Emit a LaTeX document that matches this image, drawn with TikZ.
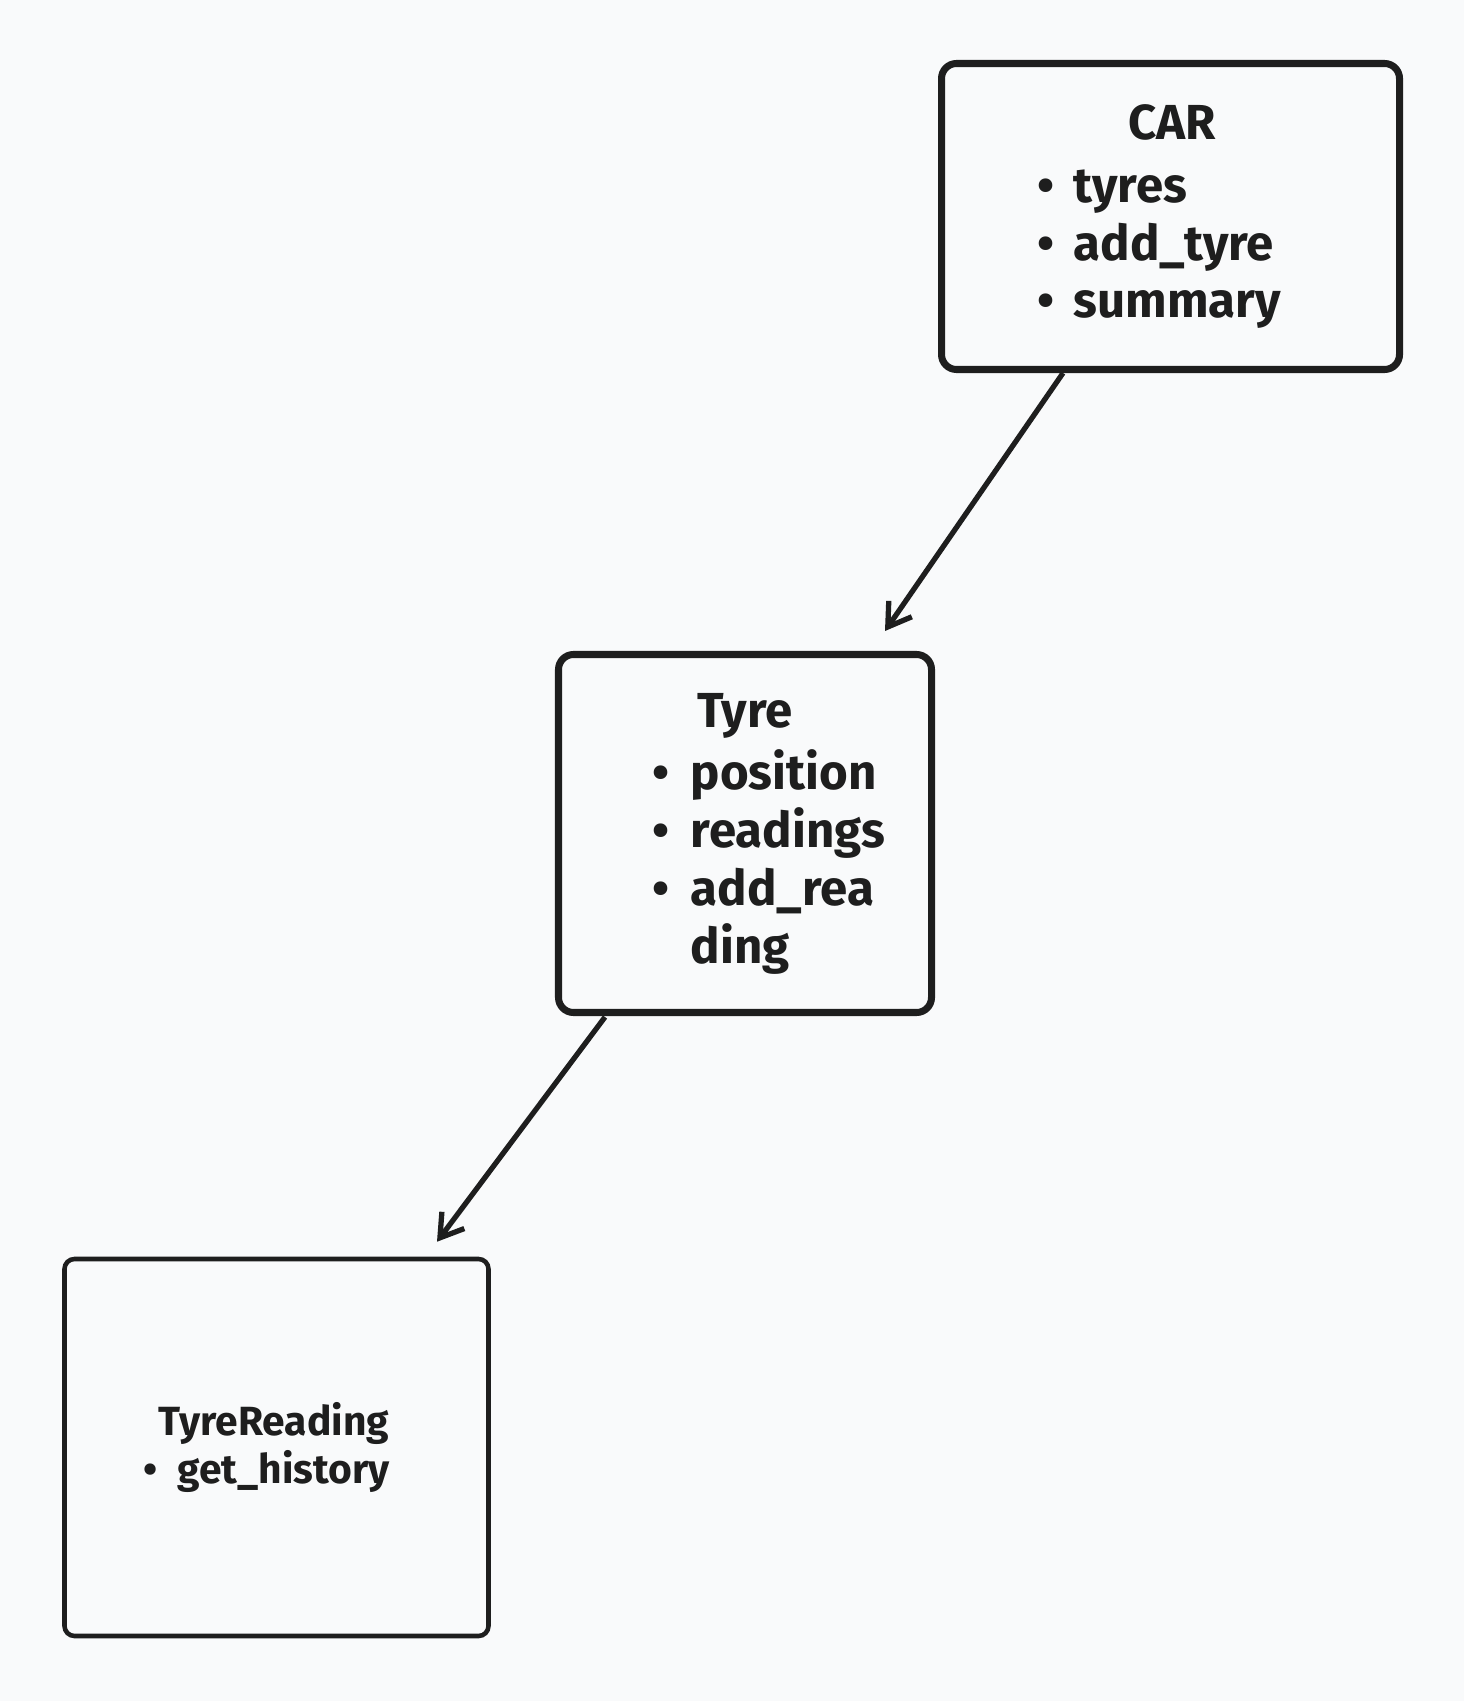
\documentclass[tikz,border=0pt]{standalone}
\usepackage{fontspec}
\setmainfont{Fira Sans}
\usetikzlibrary{arrows.meta}

\definecolor{paper}{RGB}{249,250,251}
\definecolor{ink}{RGB}{30,30,30}

\newcommand{\itm}[2]{\makebox[#1][l]{\textbullet}#2}

\begin{document}
\begin{tikzpicture}[%
    classbox/.style={draw=ink,line width=2pt,rounded corners=0.15cm},
    thinbox/.style={draw=ink,line width=1.3pt,rounded corners=0.1cm},
    big/.style={text=ink,inner sep=0pt,font=\bfseries\fontsize{14}{16.5}\selectfont},
    small/.style={text=ink,inner sep=0pt,font=\bfseries\fontsize{11.6}{13.7}\selectfont},
    link/.style={draw=ink,line width=1.5pt,-{Straight Barb[length=0.22cm,width=0.28cm]}}
  ]
		\fill[paper] (0,0) rectangle (14.64,-17.01);
		\useasboundingbox (0,0) rectangle (14.64,-17.01);

		% boxes
		\node at (11.705,-2.165) [classbox,minimum width=4.58cm,minimum height=3.06cm] (car) {};
		\node at (7.45,-8.335) [classbox,minimum width=3.73cm,minimum height=3.58cm] (tyre) {};
		\node at (2.765,-14.475) [thinbox,minimum width=4.24cm,minimum height=3.77cm] (reading) {};

		% texts (base anchor sits on the last line)
		\node at (11.72,-1.40) [big,anchor=base] (carT) {CAR};
		\node at (10.37,-3.18) [big,anchor=base west,align=left] (carL)
			{\itm{0.36cm}{tyres}\\ \itm{0.36cm}{add\_tyre}\\ \itm{0.36cm}{summary}};

		\node at (7.45,-7.27) [big,anchor=base] (tyreT) {Tyre};
		\node at (6.52,-9.63) [big,anchor=base west,align=left] (tyreL)
			{\itm{0.38cm}{position}\\ \itm{0.38cm}{readings}\\ \itm{0.38cm}{add\_rea}\\ \hspace*{0.38cm}ding};

		\node at (2.74,-14.35) [small,anchor=base] (readingT) {TyreReading};
		\node at (1.43,-14.83) [small,anchor=base west] (readingL) {\itm{0.34cm}{get\_history}};

		% arrows
		\draw[link] ([xshift=-1.075cm]car.south) -- ([xshift=1.4cm,yshift=0.2cm]tyre.north);
		\draw[link] ([xshift=-1.4cm,yshift=-0.01cm]tyre.south) -- ([xshift=1.605cm,yshift=0.15cm]reading.north);
	\end{tikzpicture}
\end{document}
